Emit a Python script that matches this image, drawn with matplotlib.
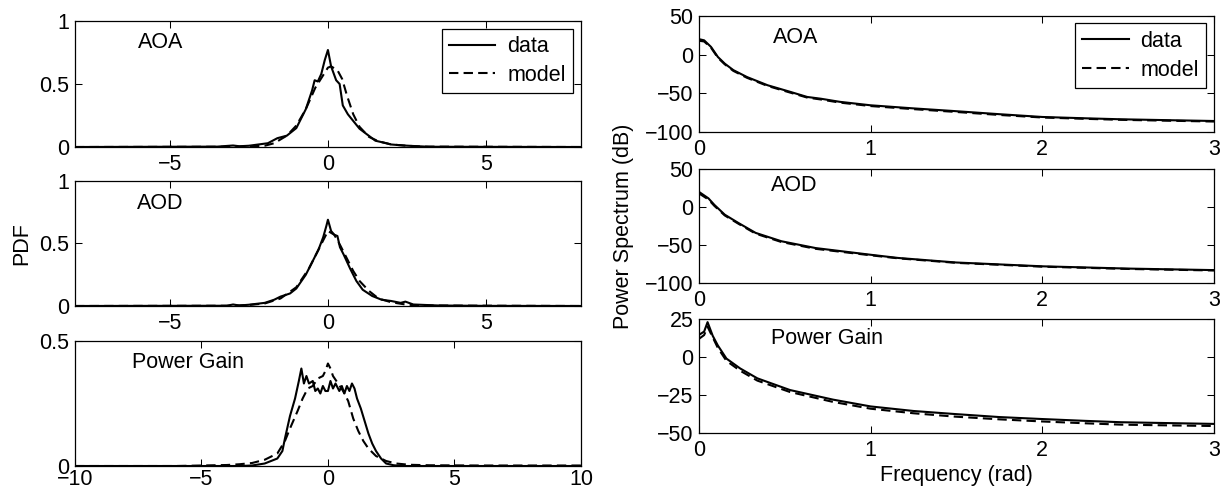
import numpy as np
import matplotlib.pyplot as plt

plt.rcParams['font.family'] = ['Liberation Sans', 'DejaVu Sans']

# ---- PDF panels (left) ----
aoa_x = [-8, -3.5, -3.0, -2.8, -2.5, -2.2, -1.9, -1.6, -1.3, -1.0, -0.7, -0.5, -0.42, -0.32,
         -0.21, -0.1, 0, 0.1, 0.26, 0.37, 0.47, 0.63, 0.79, 1.0, 1.21, 1.5, 1.85, 2.0, 2.4,
         2.7, 3.2, 8]
aoa_data = [0, 0.003, 0.012, 0.006, 0.01, 0.02, 0.03, 0.07, 0.09, 0.15, 0.3, 0.45, 0.53, 0.52,
            0.58, 0.69, 0.77, 0.64, 0.53, 0.50, 0.33, 0.26, 0.21, 0.145, 0.105, 0.05, 0.03, 0.02,
            0.012, 0.008, 0.002, 0]
aoa_mx = [-8, -3, -2.0, -1.7, -1.3, -1.0, -0.7, -0.4, -0.2, 0, 0.1, 0.3, 0.45, 0.6, 0.8, 1.0,
          1.3, 1.6, 2.0, 2.5, 3.0, 8]
aoa_model = [0, 0.002, 0.01, 0.03, 0.09, 0.17, 0.3, 0.47, 0.55, 0.63, 0.64, 0.61, 0.54, 0.41,
             0.26, 0.16, 0.08, 0.045, 0.02, 0.01, 0.003, 0]

aod_x = [-8, -3.2, -3.0, -2.8, -2.5, -2.0, -1.7, -1.5, -1.2, -1.0, -0.7, -0.5, -0.3, -0.15,
         -0.05, 0, 0.1, 0.2, 0.3, 0.38, 0.5, 0.7, 0.9, 1.1, 1.4, 1.7, 2.0, 2.3, 2.45, 2.7, 3.5,
         5, 8]
aod_data = [0, 0.002, 0.012, 0.004, 0.01, 0.025, 0.05, 0.075, 0.1, 0.14, 0.25, 0.35, 0.45, 0.55,
            0.64, 0.69, 0.6, 0.57, 0.56, 0.47, 0.41, 0.3, 0.2, 0.13, 0.08, 0.05, 0.04, 0.025,
            0.035, 0.012, 0.004, 0.001, 0]
aod_mx = [-8, -3, -2.5, -2.0, -1.5, -1.0, -0.6, -0.3, -0.1, 0, 0.2, 0.4, 0.6, 0.8, 1.0, 1.3,
          1.6, 2.0, 2.5, 3.0, 8]
aod_model = [0, 0.002, 0.008, 0.02, 0.06, 0.15, 0.3, 0.45, 0.55, 0.6, 0.57, 0.48, 0.38, 0.28,
             0.2, 0.12, 0.06, 0.03, 0.01, 0.004, 0]

pg_x = [-10, -3.5, -3.0, -2.5, -2.0, -1.8, -1.7, -1.5, -1.3, -1.15, -1.05, -0.95, -0.85, -0.75,
        -0.6, -0.5, -0.4, -0.3, -0.2, -0.1, 0, 0.1, 0.2, 0.3, 0.45, 0.55, 0.65, 0.75, 0.85,
        0.95, 1.05, 1.15, 1.3, 1.45, 1.6, 1.75, 1.9, 2.1, 2.3, 2.6, 3.0, 10]
pg_data = [0, 0, 0.002, 0.01, 0.03, 0.06, 0.11, 0.2, 0.27, 0.34, 0.39, 0.33, 0.36, 0.33,
           0.34, 0.30, 0.31, 0.29, 0.32, 0.30, 0.30, 0.34, 0.31, 0.33, 0.30, 0.32, 0.29, 0.32,
           0.30, 0.33, 0.31, 0.27, 0.23, 0.18, 0.13, 0.09, 0.06, 0.03, 0.01, 0.003, 0, 0]
pg_mx = [-10, -6, -5, -4, -3.5, -3, -2.5, -2.0, -1.7, -1.5, -1.2, -1.0, -0.8, -0.6, -0.4, -0.2,
         -0.1, 0, 0.1, 0.2, 0.4, 0.6, 0.8, 1.0, 1.2, 1.4, 1.6, 1.9, 2.3, 2.7, 3.2, 4, 6, 10]
pg_model = [0, 0, 0.002, 0.004, 0.007, 0.012, 0.025, 0.05, 0.1, 0.15, 0.22, 0.27, 0.31, 0.32,
            0.35, 0.36, 0.38, 0.41, 0.39, 0.36, 0.33, 0.30, 0.26, 0.19, 0.14, 0.10, 0.07, 0.04,
            0.02, 0.01, 0.005, 0.003, 0.002, 0.002]

# ---- power spectrum panels (right) ----
f_aoa = [0, 0.03, 0.07, 0.11, 0.15, 0.2, 0.28, 0.4, 0.53, 0.63, 0.71, 0.82, 1.0, 1.25, 1.49,
         1.75, 2.0, 2.25, 2.46, 2.75, 3.0]
ps_aoa_data = [20, 18.5, 10, -3, -11.6, -20, -29, -39.6, -48, -54.7, -57, -61, -65.5, -69.5,
               -73, -77, -80.6, -82.3, -83.6, -84.8, -85.8]
ps_aoa_model = [18, 17, 9, -4, -12.5, -21, -30, -40.5, -49, -55.5, -58, -62, -66.5, -70.5,
                -74, -78, -81.3, -83, -84.3, -85.5, -86.5]

f_aod = [0, 0.055, 0.09, 0.15, 0.23, 0.33, 0.48, 0.68, 1.0, 1.16, 1.5, 2.0, 2.5, 3.0]
ps_aod_data = [20, 11.5, 2.8, -10, -21, -34, -45, -54, -62.8, -67, -73, -78, -81, -83]
ps_aod_model = [18, 10, 1.5, -11, -22, -35, -46, -55, -63.5, -67.5, -73.5, -78.5, -81.5, -83.5]

f_pg = [0, 0.03, 0.05, 0.08, 0.11, 0.16, 0.24, 0.34, 0.53, 0.78, 1.0, 1.25, 1.49, 1.75, 2.0,
        2.25, 2.46, 2.75, 3.0]
ps_pg_data = [14.6, 16.8, 23, 14, 7.6, -1, -7.5, -14, -21.7, -28, -32.5, -35.5, -37.5, -39.5,
              -40.8, -42, -42.9, -43.5, -44]
ps_pg_model = [12, 14.5, 20, 13, 6, -2.5, -9, -15.5, -23, -29.5, -34, -37, -39.2, -41,
               -42.4, -43.6, -44.5, -45, -45.4]

FS = 15.5
LW = 1.5
DASH = (4.5, 2.5)

fig = plt.figure(figsize=(12.25, 4.91), dpi=100)


def style(ax, xlim, ylim, xticks, yticks, xpad=5):
    ax.set_xlim(xlim)
    ax.set_ylim(ylim)
    ax.set_xticks(xticks)
    ax.set_yticks(yticks)
    ax.tick_params(direction='in', top=True, right=True, length=5, width=0.75,
                   labelsize=FS, color='black')
    ax.tick_params(axis='x', pad=xpad)
    ax.tick_params(axis='y', pad=4)
    for s in ax.spines.values():
        s.set_linewidth(0.9)


def add_legend(ax):
    leg = ax.legend(loc='upper right', fontsize=FS, frameon=True, fancybox=False,
                    edgecolor='black', framealpha=1, handlelength=2.15, handletextpad=0.55,
                    borderpad=0.35, labelspacing=0.35, borderaxespad=0.35)
    leg.get_frame().set_linewidth(0.9)


# left column
ax1 = fig.add_axes([0.0612, 0.7006, 0.413, 0.2566])
ax1.plot(aoa_x, aoa_data, 'k-', lw=LW, label='data')
ax1.plot(aoa_mx, aoa_model, 'k--', lw=LW, dashes=DASH, label='model')
style(ax1, (-8, 8), (0, 1), [-5, 0, 5], [0, 0.5, 1])
ax1.set_yticklabels(['0', '0.5', '1'])
ax1.text(-6.0, 0.83, 'AOA', fontsize=FS, va='center')
add_legend(ax1)

ax2 = fig.add_axes([0.0612, 0.3768, 0.413, 0.2546])
ax2.plot(aod_x, aod_data, 'k-', lw=LW)
ax2.plot(aod_mx, aod_model, 'k--', lw=LW, dashes=DASH)
style(ax2, (-8, 8), (0, 1), [-5, 0, 5], [0, 0.5, 1])
ax2.set_yticklabels(['0', '0.5', '1'])
ax2.text(-6.05, 0.82, 'AOD', fontsize=FS, va='center')
ax2.set_ylabel('PDF', fontsize=FS, labelpad=5)

ax3 = fig.add_axes([0.0612, 0.0509, 0.413, 0.2546])
ax3.plot(pg_x, pg_data, 'k-', lw=LW)
ax3.plot(pg_mx, pg_model, 'k--', lw=LW, dashes=DASH)
style(ax3, (-10, 10), (0, 0.5), [-10, -5, 0, 5, 10], [0, 0.5], xpad=2)
ax3.set_yticklabels(['0', '0.5'])
ax3.text(-7.75, 0.416, 'Power Gain', fontsize=FS, va='center')

# right column
ax4 = fig.add_axes([0.5706, 0.7312, 0.4204, 0.2363])
ax4.plot(f_aoa, ps_aoa_data, 'k-', lw=LW, label='data')
ax4.plot(f_aoa, ps_aoa_model, 'k--', lw=LW, dashes=DASH, label='model')
style(ax4, (0, 3), (-100, 50), [0, 1, 2, 3], [-100, -50, 0, 50])
ax4.text(0.43, 22, 'AOA', fontsize=FS, va='center')
add_legend(ax4)

ax5 = fig.add_axes([0.5706, 0.4236, 0.4204, 0.232])
ax5.plot(f_aod, ps_aod_data, 'k-', lw=LW)
ax5.plot(f_aod, ps_aod_model, 'k--', lw=LW, dashes=DASH)
style(ax5, (0, 3), (-100, 50), [0, 1, 2, 3], [-100, -50, 0, 50])
ax5.text(0.42, 29, 'AOD', fontsize=FS, va='center')

ax6 = fig.add_axes([0.5706, 0.1181, 0.4204, 0.232])
ax6.plot(f_pg, ps_pg_data, 'k-', lw=LW)
ax6.plot(f_pg, ps_pg_model, 'k--', lw=LW, dashes=DASH)
style(ax6, (0, 3), (-50, 25), [0, 1, 2, 3], [-50, -25, 0, 25])
ax6.text(0.42, 12.5, 'Power Gain', fontsize=FS, va='center')
ax6.set_xlabel('Frequency (rad)', fontsize=FS, labelpad=3)

fig.text(623 / 1225, 1 - 226 / 491, 'Power Spectrum (dB)', fontsize=FS, rotation=90,
         ha='center', va='center')

fig.savefig('out.png', dpi=100)
